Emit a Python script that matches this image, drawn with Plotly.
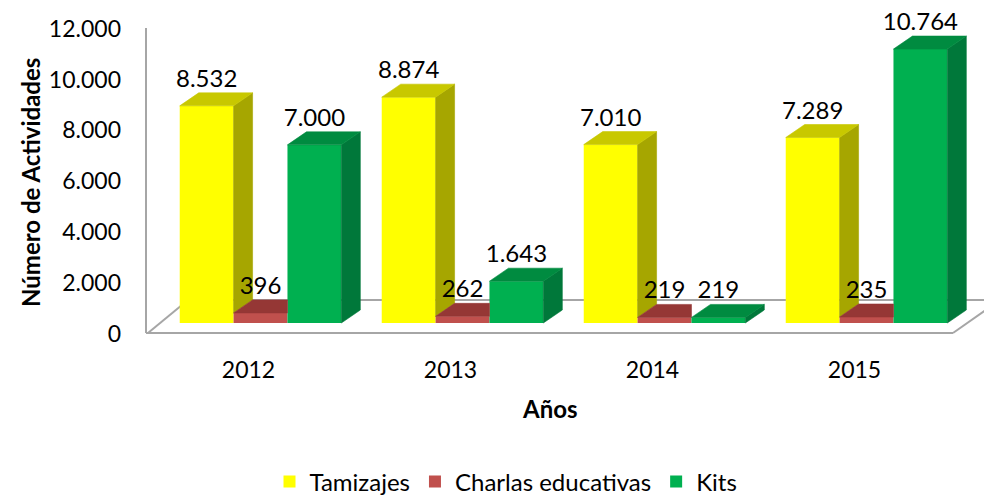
import plotly.graph_objects as go

# ---------------- data ----------------
years = ["2012", "2013", "2014", "2015"]
tamizajes = [8532, 8874, 7010, 7289]
charlas = [396, 262, 219, 235]
kits = [7000, 1643, 219, 10764]
series_names = ["Tamizajes", "Charlas educativas", "Kits"]
y_tick_values = [0, 2000, 4000, 6000, 8000, 10000, 12000]

# ---------------- style ----------------
front_colors = ["#FFFF00", "#C0504D", "#00B050"]
side_colors = ["#A6A600", "#8C3330", "#00783A"]
top_colors = ["#C8C800", "#953735", "#008B40"]
FONT = "Lato"

# plot area geometry (pixels)
W_FIG, H_FIG = 984, 497
L, T = 146, 10
PW, PH = 828, 330
X_RANGE = [-0.567, 3.532]
Y_RANGE = [-668, 12299]
BARGAP = 0.2
NS = 3
BW = (1 - BARGAP) / NS
DX = 0.094   # depth offset in category units
DY = 511     # depth offset in value units


def fmt(v):
    return f"{v:,}".replace(",", ".")


def px(p):
    return (p - L) / PW


def py(p):
    return (T + PH - p) / PH


series = [tamizajes, charlas, kits]
xs = list(range(len(years)))

fig = go.Figure()

# front faces
for s, vals in enumerate(series):
    fig.add_trace(go.Bar(
        x=xs, y=vals, name=series_names[s],
        marker=dict(color=front_colors[s], line=dict(width=0)),
        hoverinfo="name+y",
    ))

# side and top faces (computed from the data)
for s, vals in enumerate(series):
    sx, sy, tx, ty = [], [], [], []
    for i, v in enumerate(vals):
        xl = i + (s - (NS - 1) / 2) * BW - BW / 2
        xr = xl + BW
        nxt = series[s + 1][i] if s < NS - 1 else None
        if nxt is None or nxt < v:
            base = 0 if nxt is None else nxt
            sx += [xr, xr + DX, xr + DX, xr, xr, None]
            sy += [base, base + DY, v + DY, v, base, None]
        if nxt is not None and nxt >= v:
            tx += [xl, xl + DX, xr, xr, xl, None]
            ty += [v, v + DY, v + DY, v, v, None]
        else:
            tx += [xl, xl + DX, xr + DX, xr, xl, None]
            ty += [v, v + DY, v + DY, v, v, None]
    if sx:
        fig.add_trace(go.Scatter(x=sx, y=sy, mode="lines", fill="toself",
                                 fillcolor=side_colors[s],
                                 line=dict(color=side_colors[s], width=0.6),
                                 showlegend=False, hoverinfo="skip"))
    fig.add_trace(go.Scatter(x=tx, y=ty, mode="lines", fill="toself",
                             fillcolor=top_colors[s],
                             line=dict(color=top_colors[s], width=0.6),
                             showlegend=False, hoverinfo="skip"))

# value labels
for s, vals in enumerate(series):
    lx = [i + (s - (NS - 1) / 2) * BW for i in xs]
    ly = [v + DY for v in vals]
    fig.add_trace(go.Scatter(x=lx, y=ly, mode="text", text=[fmt(v) for v in vals],
                             textposition="top center",
                             textfont=dict(family=FONT, size=24, color="#000000"),
                             showlegend=False, hoverinfo="skip"))

# frame lines (walls / floor)
line_style = dict(color="#A6A6A6", width=2)
for (x0, y0, x1, y1) in [(146, 28, 146, 333), (146, 333, 953, 333),
                         (148, 333, 188, 300), (188, 300, 990, 300),
                         (953, 333, 1000, 300)]:
    fig.add_shape(type="line", xref="paper", yref="paper",
                  x0=px(x0), y0=py(y0), x1=px(x1), y1=py(y1),
                  line=line_style, layer="below")

fig.update_layout(
    width=W_FIG, height=H_FIG,
    margin=dict(l=L, r=W_FIG - L - PW, t=T, b=H_FIG - T - PH, pad=0,
                autoexpand=False),
    paper_bgcolor="white", plot_bgcolor="white",
    barmode="group", bargap=BARGAP, bargroupgap=0,
    font=dict(family=FONT, size=23, color="#000000"),
    showlegend=True,
    legend=dict(orientation="h", x=px(506), xanchor="center",
                y=py(482), yanchor="middle",
                font=dict(family=FONT, size=24, color="#000000"),
                itemwidth=30, tracegroupgap=0),
    xaxis=dict(range=X_RANGE, tickvals=xs, ticktext=years,
               showgrid=False, zeroline=False, showline=False, ticks="",
               ticklabelshift=-12, ticklabelstandoff=14,
               tickfont=dict(family=FONT, size=23)),
    yaxis=dict(range=Y_RANGE, tickvals=y_tick_values,
               ticktext=[fmt(v) for v in y_tick_values],
               showgrid=False, zeroline=False, showline=False, ticks="",
               ticklabelshift=11, ticklabelstandoff=24,
               tickfont=dict(family=FONT, size=23)),
    annotations=[
        dict(text="<b>Número de Actividades</b>", xref="paper", yref="paper",
             x=px(30), y=py(182), textangle=-90, showarrow=False,
             font=dict(family=FONT, size=24, color="#000000"),
             xanchor="center", yanchor="middle"),
        dict(text="<b>Años</b>", xref="paper", yref="paper",
             x=px(550), y=py(408), showarrow=False,
             font=dict(family=FONT, size=24, color="#000000"),
             xanchor="center", yanchor="middle"),
    ],
)

fig.write_html("out.html",
               config={"displayModeBar": False},
               post_script="document.body.style.margin='0px';"
                           "document.body.style.overflow='hidden';")
